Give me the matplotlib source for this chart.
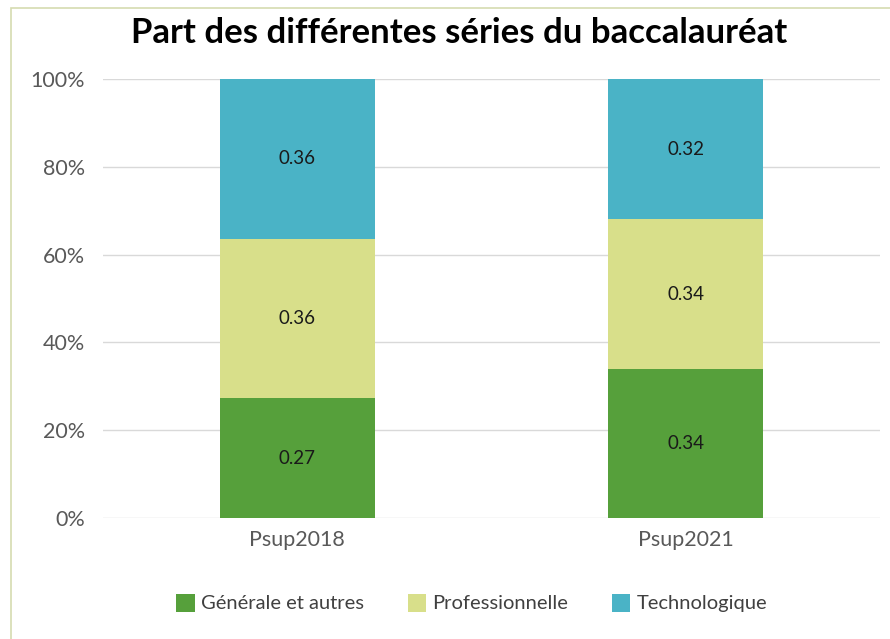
import matplotlib
matplotlib.use("Agg")
import matplotlib.pyplot as plt
from matplotlib.patches import Rectangle
from matplotlib.ticker import FuncFormatter

categories = ["Psup2018", "Psup2021"]
series_names = ["Générale et autres", "Professionnelle", "Technologique"]
generale = [0.27, 0.34]
professionnelle = [0.36, 0.34]
technologique = [0.36, 0.32]
colors = ["#56A03B", "#D8DF8A", "#4AB3C6"]
title = "Part des différentes séries du baccalauréat"

plt.rcParams['font.family'] = ['Lato', 'DejaVu Sans']

fig = plt.figure(figsize=(8.9, 6.39), dpi=100)
ax = fig.add_axes([103/890, 1-518/639, (880-103)/890, (518-79)/639])

values = [generale, professionnelle, technologique]
totals = [sum(v[i] for v in values) for i in range(len(categories))]
x = list(range(len(categories)))
bottom = [0.0]*len(categories)
for name, vals, col in zip(series_names, values, colors):
    shares = [v/t for v, t in zip(vals, totals)]
    ax.bar(x, shares, width=0.4, bottom=bottom, color=col, label=name, zorder=3)
    for i in range(len(categories)):
        ax.text(x[i], bottom[i] + shares[i]/2, f"{vals[i]:.2f}", ha='center', va='center',
                fontsize=13.5, color='#1a1a1a', zorder=4)
    bottom = [b + s for b, s in zip(bottom, shares)]

ax.set_xlim(-0.5, 1.5)
ax.set_ylim(0, 1)
ax.set_yticks([0, 0.2, 0.4, 0.6, 0.8, 1.0])
ax.yaxis.set_major_formatter(FuncFormatter(lambda v, p: f"{int(round(v*100))}%"))
ax.set_xticks(x)
ax.set_xticklabels(categories)
ax.grid(axis='y', color='#d9d9d9', linewidth=1, zorder=0)
for s in ax.spines.values():
    s.set_visible(False)
ax.tick_params(axis='both', length=0, labelsize=15.5, colors='#595959')
ax.tick_params(axis='y', pad=13)
ax.tick_params(axis='x', pad=9)

fig.text(0.516, 1-33/639, title, ha='center', va='center', fontsize=25, fontweight='bold', color='#000000')

leg = fig.legend(loc='center', bbox_to_anchor=(0.53, 1-603/639), ncol=3, frameon=False,
                 fontsize=14.5, handlelength=0.9, handleheight=1.0, columnspacing=2.2, handletextpad=0.3,
                 labelcolor='#404040')

fig.patches.append(Rectangle((11/890, -0.1), 1.2, 1 - 8/639 + 0.1, transform=fig.transFigure,
                             fill=False, edgecolor='#D5DBB0', linewidth=1.2))

fig.savefig("out.png", dpi=100)
